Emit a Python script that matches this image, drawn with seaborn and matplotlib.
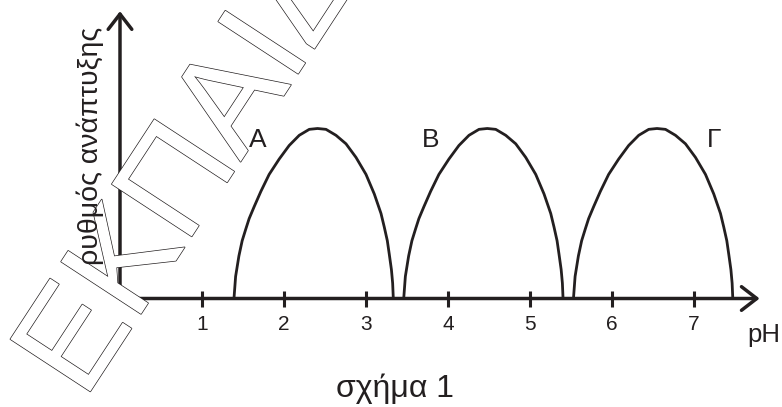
import pandas as pd
import matplotlib.pyplot as plt
import matplotlib.patheffects as pe
import seaborn as sns

# curves (pH, relative growth rate, peak = 1)
ph_a = [1.39, 1.41, 1.45, 1.49, 1.535, 1.575, 1.636, 1.718, 1.819, 1.941, 2.063, 2.186, 2.308,
        2.409, 2.512, 2.634, 2.756, 2.878, 3.0, 3.101, 3.183, 3.223, 3.26, 3.284, 3.31, 3.325, 3.333]
rate_a = [0.0, 0.13, 0.25, 0.34, 0.41, 0.47, 0.54, 0.63, 0.73, 0.82, 0.90, 0.96, 0.995,
          1.0, 0.995, 0.96, 0.91, 0.83, 0.73, 0.615, 0.50, 0.42, 0.34, 0.26, 0.17, 0.09, 0.0]
ph_b = [3.46, 3.48, 3.52, 3.56, 3.605, 3.645, 3.706, 3.788, 3.889, 4.011, 4.133, 4.256, 4.378,
        4.479, 4.582, 4.704, 4.826, 4.948, 5.07, 5.171, 5.253, 5.293, 5.33, 5.354, 5.38, 5.395, 5.403]
rate_b = [0.0, 0.13, 0.25, 0.34, 0.41, 0.47, 0.54, 0.63, 0.73, 0.82, 0.90, 0.96, 0.995,
          1.0, 0.995, 0.96, 0.91, 0.83, 0.73, 0.615, 0.50, 0.42, 0.34, 0.26, 0.17, 0.09, 0.0]
ph_c = [5.53, 5.55, 5.59, 5.63, 5.675, 5.715, 5.776, 5.858, 5.959, 6.081, 6.203, 6.326, 6.448,
        6.549, 6.652, 6.774, 6.896, 7.018, 7.14, 7.241, 7.323, 7.363, 7.40, 7.424, 7.45, 7.465, 7.473]
rate_c = [0.0, 0.13, 0.25, 0.34, 0.41, 0.47, 0.54, 0.63, 0.73, 0.82, 0.90, 0.96, 0.995,
          1.0, 0.995, 0.96, 0.91, 0.83, 0.73, 0.615, 0.50, 0.42, 0.34, 0.26, 0.17, 0.09, 0.0]

curve_names = ["Α", "Β", "Γ"]
label_pos = [1.68, 3.79, 7.24]
ph_ticks = [1, 2, 3, 4, 5, 6, 7]

ink = "#231f20"

sns.set_theme(style="white")
plt.rcParams['font.family'] = ['Liberation Sans', 'DejaVu Sans']

df = pd.concat([
    pd.DataFrame({'pH': ph_a, 'rate': rate_a, 'curve': curve_names[0]}),
    pd.DataFrame({'pH': ph_b, 'rate': rate_b, 'curve': curve_names[1]}),
    pd.DataFrame({'pH': ph_c, 'rate': rate_c, 'curve': curve_names[2]}),
])

fig = plt.figure(figsize=(7.82, 4.07), dpi=100)
ax = fig.add_axes([0, 0, 1, 1])

# watermark behind everything
fig.text(0.1075, 0.0147, "ΕΚΠΑΙΔΕΥΤΙΚΟ", rotation=56.8, rotation_mode='anchor',
         ha='left', va='baseline', fontsize=100, color='white', zorder=0,
         path_effects=[pe.Stroke(linewidth=1.0, foreground=ink), pe.Normal()])
ax.patch.set_alpha(0)

sns.lineplot(data=df, x='pH', y='rate', units='curve', estimator=None, sort=False,
             color=ink, lw=2.0, ax=ax, zorder=3)

ax.set_xlim(-120 / 82, 662 / 82)
ax.set_ylim(-108.5 / 170, 298.5 / 170)

for s in ax.spines.values():
    s.set_visible(False)
ax.spines['bottom'].set_position(('data', 0))
ax.set_xticks(ph_ticks)
ax.set_xticklabels([str(t) for t in ph_ticks], fontsize=15, color=ink)
ax.tick_params(axis='x', direction='inout', length=11.5, width=2.2, color=ink, pad=6, bottom=True)
ax.set_yticks([])
ax.set_xlabel('')
ax.set_ylabel('')

# axes with open arrow heads
arrow = dict(arrowstyle='->,head_length=1.1,head_width=0.85', lw=2.5, color=ink,
             shrinkA=0, shrinkB=0, mutation_scale=10)
ax.annotate('', xy=(7.8, 0), xytext=(0, 0), arrowprops=arrow, zorder=4)
ax.annotate('', xy=(0, 1.69), xytext=(0, 0), arrowprops=arrow, zorder=4)

for name, x in zip(curve_names, label_pos):
    ax.text(x, 0.89, name, ha='center', va='baseline', fontsize=19, color=ink, zorder=5)

ax.text(7.65, -0.254, "pH", ha='left', va='baseline', fontsize=18.5, color=ink)
fig.text(90 / 782, 1 - 146 / 407, "ρυθμός ανάπτυξης", rotation=90, ha='center', va='center',
         fontsize=20.5, color=ink, zorder=5)
fig.text(395 / 782, 10 / 407, "σχήμα 1", ha='center', va='baseline', fontsize=23, color=ink)

fig.savefig("out.png", dpi=100, facecolor='white')
